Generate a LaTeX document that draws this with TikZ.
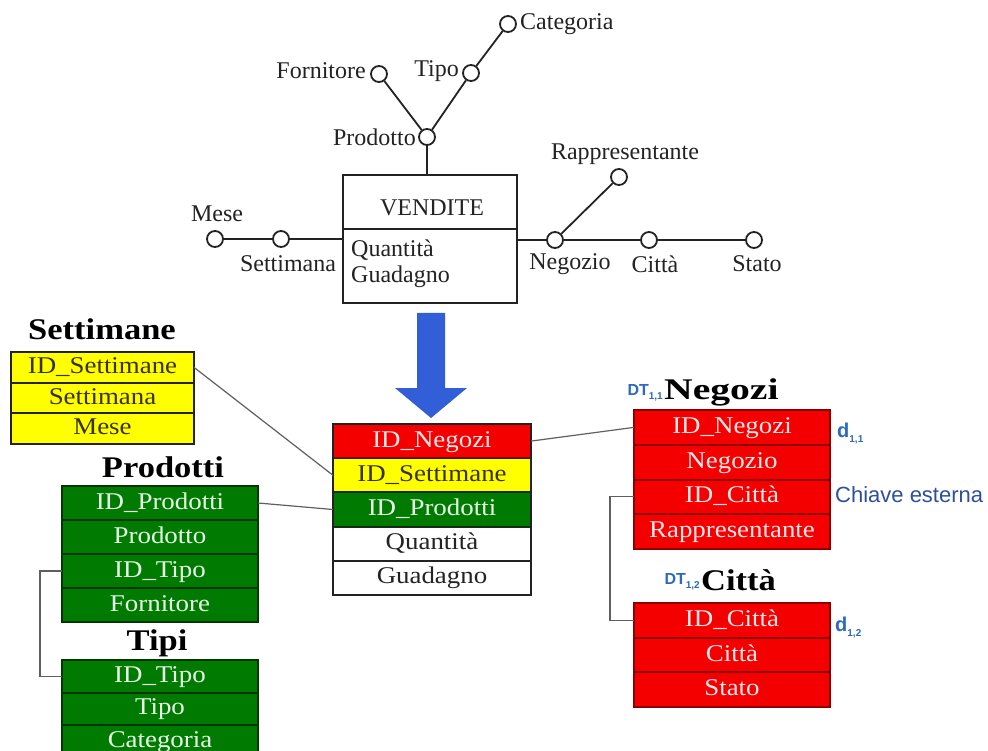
\documentclass[tikz,border=0pt]{standalone}
\usepackage{fontspec}
\setmainfont{Liberation Serif}
\newfontfamily\cellfont[FakeStretch=1.12]{Liberation Serif}
\newfontfamily\headfont[FakeStretch=1.15]{Liberation Serif}
\newfontfamily\wideheadfont[FakeStretch=1.32]{Liberation Serif}
\newfontfamily\notefont{Liberation Sans}

\definecolor{cRed}{RGB}{245,0,0}
\definecolor{cRedLine}{RGB}{140,0,0}
\definecolor{cRedText}{RGB}{255,232,232}
\definecolor{cGreen}{RGB}{0,122,0}
\definecolor{cGreenLine}{RGB}{0,55,0}
\definecolor{cGreenText}{RGB}{232,255,232}
\definecolor{cYellow}{RGB}{255,255,0}
\definecolor{cYellowText}{RGB}{55,50,0}
\definecolor{cArrow}{RGB}{50,95,215}
\definecolor{cNote}{RGB}{45,105,190}
\definecolor{cKey}{RGB}{45,80,155}
\definecolor{cLink}{RGB}{95,95,95}
\definecolor{cInk}{RGB}{35,35,35}

\begin{document}
\begin{tikzpicture}[x=1pt,y=-1pt,
  attr/.style={circle,draw=cInk,line width=1.8pt,fill=white,minimum size=16pt,inner sep=0pt},
  lbl/.style={inner sep=0pt,font=\fontsize{24}{27}\selectfont,text=cInk},
  link/.style={draw=cInk,line width=1.8pt},
  fk/.style={draw=cLink,line width=1.2pt},
  cell/.style={rectangle,anchor=north west,inner sep=0pt,line width=1pt,
    text height=17pt,text depth=5pt,font=\cellfont\fontsize{24}{26}\selectfont},
  redrow/.style={cell,fill=cRed,draw=cRedLine,text=cRedText},
  greenrow/.style={cell,fill=cGreen,draw=cGreenLine,text=cGreenText},
  yellowrow/.style={cell,fill=cYellow,draw=cInk,text=cYellowText},
  whiterow/.style={cell,fill=white,draw=cInk,text=cInk},
  border/.style={draw=cInk,line width=2pt},
  title/.style={inner sep=0pt,anchor=base,font=\headfont\bfseries\fontsize{30}{32}\selectfont,text=black},
  note/.style={inner sep=0pt,text=cNote,font=\notefont\bfseries\fontsize{16}{18}\selectfont},
  dnote/.style={inner sep=0pt,text=cNote,font=\notefont\bfseries\fontsize{20}{22}\selectfont}
]
\clip (0,0) rectangle (988,751);
\fill[white] (0,0) rectangle (988,751);

% ---------- dimensional fact model ----------
\node[draw=cInk,line width=2pt,minimum width=174pt,minimum height=128pt,inner sep=0pt,anchor=north west] (vend) at (342,174) {};
\draw[link] (vend.west |- 0,229) -- (vend.east |- 0,229);
\node[lbl] (vendT) at (432,208) {VENDITE};
\node[lbl,anchor=west] (qta) at (351,250) {Quantità};
\node[lbl,anchor=west] (gua) at (351,277) {Guadagno};

\node[attr] (prod) at (427,137) {};
\node[attr] (forn) at (379,74) {};
\node[attr] (tipo) at (471,73) {};
\node[attr] (cat) at (508,24) {};
\node[attr] (mese) at (215,239) {};
\node[attr] (sett) at (281,239) {};
\node[attr] (neg) at (555,240) {};
\node[attr] (cit) at (649,240) {};
\node[attr] (sta) at (754,240) {};
\node[attr] (rap) at (619,177) {};

\node[lbl,anchor=west] (catT) at (520,24) {Categoria};
\node[lbl,anchor=east] (tipoT) at (459,71) {Tipo};
\node[lbl,anchor=east] (fornT) at (366,71) {Fornitore};
\node[lbl,anchor=east] (prodT) at (416,137) {Prodotto};
\node[lbl] (meseT) at (217,214) {Mese};
\node[lbl] (settT) at (288,264) {Settimana};
\node[lbl] (rapT) at (625,154) {Rappresentante};
\node[lbl] (negT) at (570,264) {Negozio};
\node[lbl] (citT) at (655,264) {Città};
\node[lbl] (staT) at (757,264) {Stato};

\draw[link] (cat) -- (tipo);
\draw[link] (tipo) -- (prod);
\draw[link] (forn) -- (prod);
\draw[link] (prod) -- (prod |- vend.north);
\draw[link] (mese) -- (sett);
\draw[link] (sett) -- (sett -| vend.west);
\draw[link] (vend.east |- neg) -- (neg);
\draw[link] (neg) -- (cit);
\draw[link] (cit) -- (sta);
\draw[link] (neg) -- (rap);

% ---------- transformation arrow ----------
\fill[cArrow] (417,313) -- (445,313) -- (445,388) -- (467,388) -- (431,418)
  -- (395,388) -- (417,388) -- cycle;

% ---------- fact table ----------
\begin{scope}[every node/.append style={minimum width=197pt,minimum height=33.2pt}]
\node[redrow] (mNeg) at (333,424) {ID\_Negozi};
\node[yellowrow] (mSet) at (mNeg.south west) {ID\_Settimane};
\node[greenrow] (mPro) at (mSet.south west) {ID\_Prodotti};
\node[whiterow] (mQua) at (mPro.south west) {Quantità};
\node[whiterow] (mGua) at (mQua.south west) {Guadagno};
\end{scope}
\draw[border] (mNeg.north west) rectangle (mGua.south east);

% ---------- Settimane ----------
\node[title] (settH) at (102,339) {Settimane};
\begin{scope}[every node/.append style={minimum width=182pt,minimum height=29.7pt,
  text height=15pt,text depth=4.5pt,font=\cellfont\fontsize{21.5}{24}\selectfont}]
\node[yellowrow] (sId) at (11,352) {ID\_Settimane};
\node[yellowrow] (sSet) at (sId.south west) {Settimana};
\node[yellowrow] (sMes) at (sSet.south west) {Mese};
\end{scope}
\draw[border] (sId.north west) rectangle (sMes.south east);

% ---------- Prodotti ----------
\node[title] (prodH) at (163,477) {Prodotti};
\begin{scope}[every node/.append style={minimum width=195pt,minimum height=33pt}]
\node[greenrow] (pId) at (62,486) {ID\_Prodotti};
\node[greenrow] (pPro) at (pId.south west) {Prodotto};
\node[greenrow] (pTip) at (pPro.south west) {ID\_Tipo};
\node[greenrow] (pFor) at (pTip.south west) {Fornitore};
\end{scope}
\draw[border,draw=cGreenLine] (pId.north west) rectangle (pFor.south east);

% ---------- Tipi ----------
\node[title] (tipiH) at (157,650) {Tipi};
\begin{scope}[every node/.append style={minimum width=195pt,minimum height=31.5pt}]
\node[greenrow] (tId) at (62,660) {ID\_Tipo};
\node[greenrow] (tTip) at (tId.south west) {Tipo};
\node[greenrow] (tCat) at (tTip.south west) {Categoria};
\end{scope}
\draw[border,draw=cGreenLine] (tId.north west) rectangle (tCat.south east);

% ---------- Negozi ----------
\node[title,anchor=base west,font=\wideheadfont\bfseries\fontsize{30}{32}\selectfont] (negH) at (664,399) {Negozi};
\node[note,anchor=base east] (negDT) at (663,395) {DT\raisebox{-4pt}{\notefont\bfseries\fontsize{10}{10}\selectfont 1,1}};
\begin{scope}[every node/.append style={minimum width=195pt,minimum height=33.75pt}]
\node[redrow] (nId) at (634,410) {ID\_Negozi};
\node[redrow] (nNeg) at (nId.south west) {Negozio};
\node[redrow] (nCit) at (nNeg.south west) {ID\_Città};
\node[redrow] (nRap) at (nCit.south west) {Rappresentante};
\end{scope}
\draw[border,draw=cRedLine] (nId.north west) rectangle (nRap.south east);
\node[dnote,anchor=base west] (negD) at (837,437) {d\raisebox{-5pt}{\notefont\bfseries\fontsize{10}{10}\selectfont 1,1}};
\node[inner sep=0pt,anchor=west,text=cKey,font=\notefont\fontsize{22}{25}\selectfont] (key) at (835,495) {Chiave esterna};

% ---------- Città ----------
\node[title,anchor=base west] (citH) at (701,590) {Città};
\node[note,anchor=base east] (citDT) at (700,584) {DT\raisebox{-4pt}{\notefont\bfseries\fontsize{10}{10}\selectfont 1,2}};
\begin{scope}[every node/.append style={minimum width=195pt,minimum height=33.7pt}]
\node[redrow] (cId) at (634,603) {ID\_Città};
\node[redrow] (cCit) at (cId.south west) {Città};
\node[redrow] (cSta) at (cCit.south west) {Stato};
\end{scope}
\draw[border,draw=cRedLine] (cId.north west) rectangle (cSta.south east);
\node[dnote,anchor=base west] (citD) at (835,631) {d\raisebox{-5pt}{\notefont\bfseries\fontsize{10}{10}\selectfont 1,2}};

% ---------- foreign key links ----------
\draw[fk] (sId.east) -- (mSet.west);
\draw[fk] (pId.east) -- (mPro.west);
\draw[fk] (mNeg.east) -- (nId.west);
\draw[fk] (pTip.west) -- ++(-22,0) |- (tId.west);
\draw[fk] (nCit.west) -- ++(-24,0) |- (cId.west);
\end{tikzpicture}
\end{document}
